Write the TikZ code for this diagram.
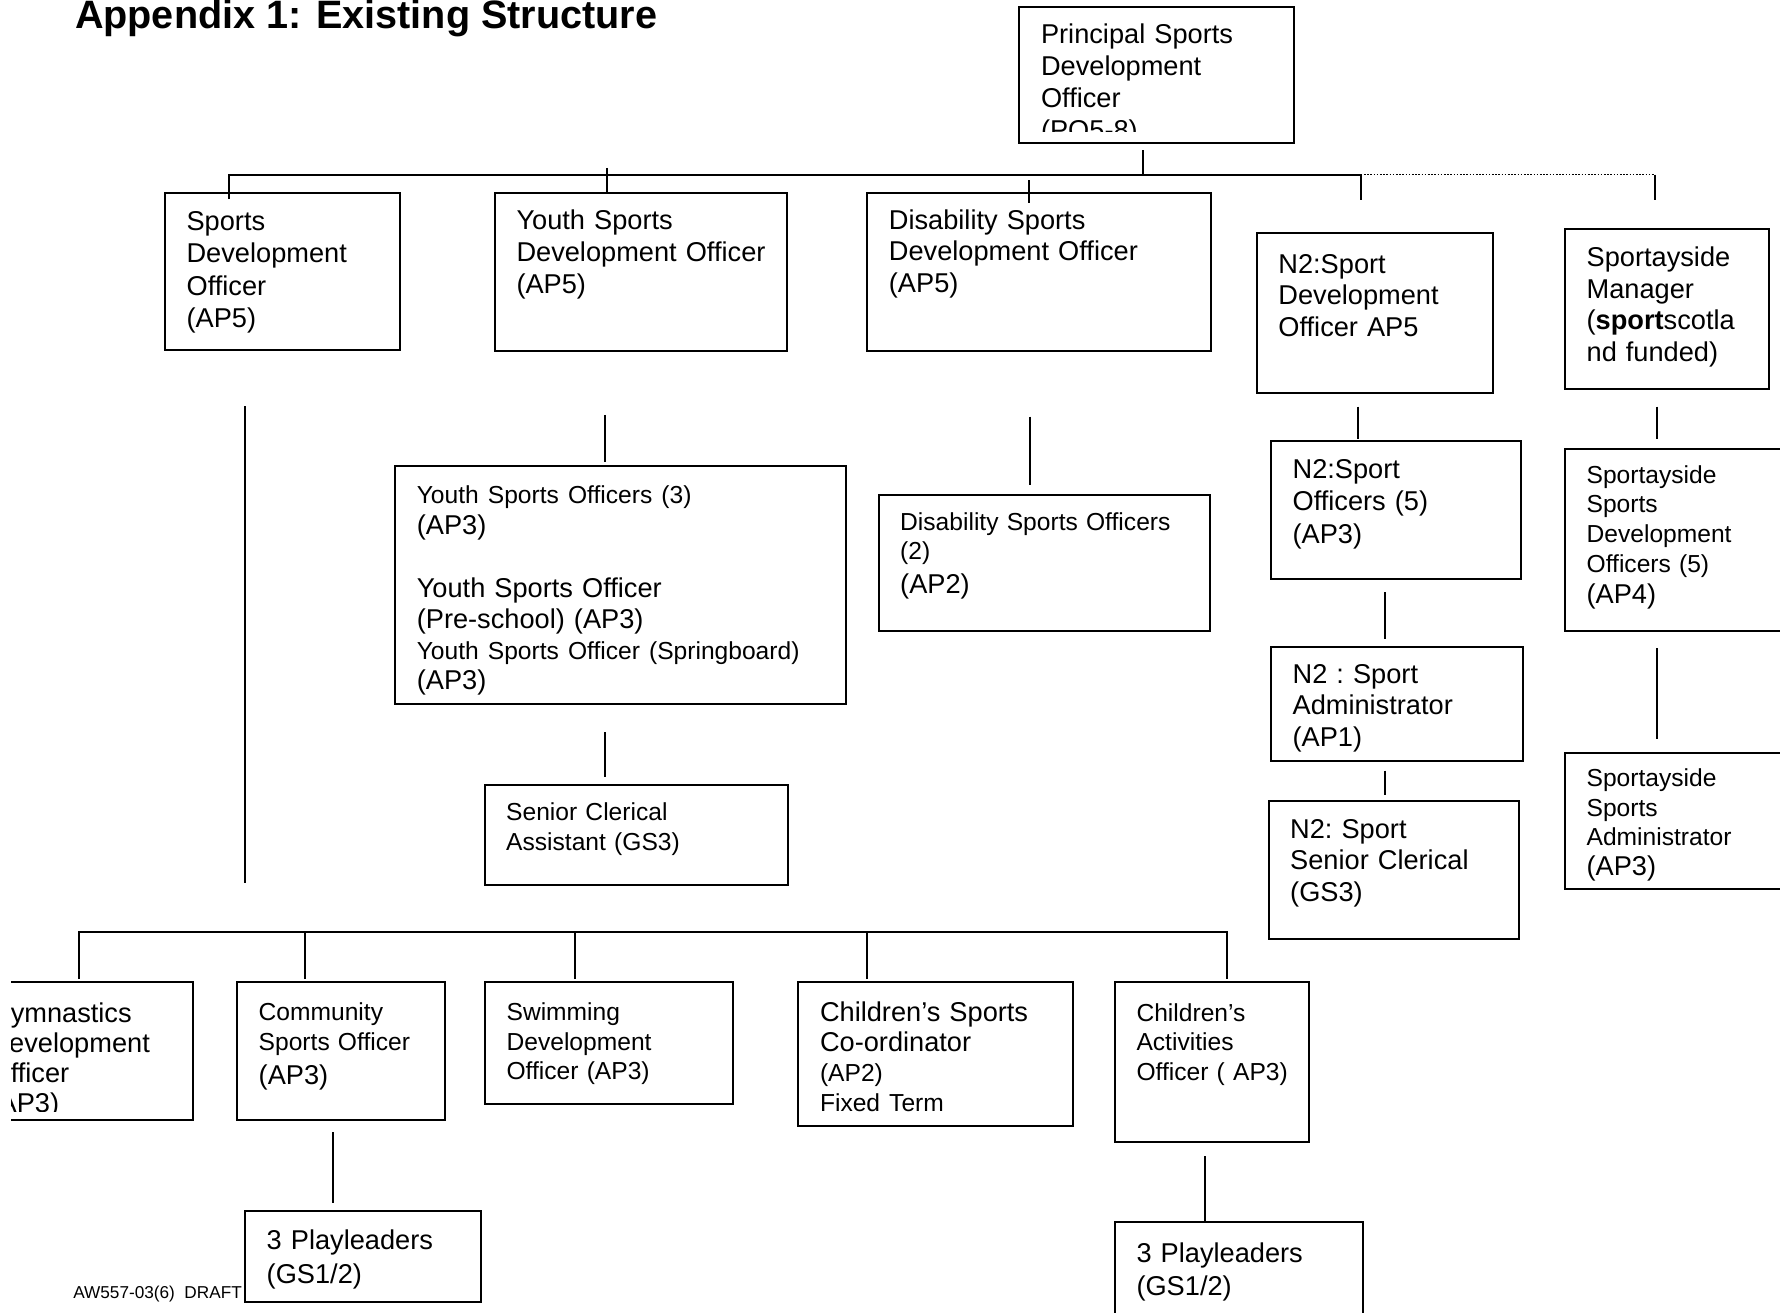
\documentclass[tikz,border=0pt]{standalone}
\usepackage{fontspec}
\setmainfont{Liberation Sans}
\usetikzlibrary{positioning}

\newcommand{\postbig}{\fontsize{13.6pt}{15.8pt}\selectfont}
\newcommand{\postsmall}{\fontsize{12.3pt}{14.8pt}\selectfont}

\tikzset{
  postbox/.style={draw, line width=1pt, inner sep=0pt, outer sep=0pt,
    align=left, font=\postbig,
    execute at begin node={\frenchspacing\leftskip=10.8pt\relax}},
  smalltext/.style={font=\postsmall},
  link/.style={line width=1pt},
  vacant/.style={line width=0.8pt, dash pattern=on 0.8pt off 0.8pt}
}

\begin{document}
\begin{tikzpicture}
  \useasboundingbox (0,0) rectangle (890pt,-656pt);

  % heading
  \node[font=\fontsize{19.8pt}{22pt}\selectfont\bfseries, anchor=base west,
        inner sep=0pt] (title) at (37.3pt,-14.15pt)
    {Appendix 1: Existing Structure};

  % Principal officer (last line cut off by the box)
  \begin{scope}
    \clip (0,0) rectangle (890pt,-65.85pt);
    \node[postbox, draw=none, anchor=north west, text width=137.35pt,
          text height=18.1pt, text depth=49.95pt,
          font=\fontsize{13.6pt}{16pt}\selectfont] (prin) at (509.7pt,-3.4pt)
      {Principal Sports\\Development\\Officer\\(PO5-8)};
  \end{scope}
  \draw[line width=1pt] (prin.south west) rectangle (prin.north east);

  % first tier
  \node[postbox, text width=117.5pt, text height=18.8pt, text depth=59.85pt,
        font=\fontsize{13.6pt}{16.2pt}\selectfont,
        below right=24.9pt and -427.2pt of prin.south west] (sdo)
    {Sports\\Development\\Officer\\(AP5)};
  \node[postbox, text width=145.9pt, text height=18.6pt, text depth=60.3pt,
        below right=0pt and 47.45pt of sdo.north east] (ysdo)
    {Youth Sports\\Development Officer\\(AP5)};
  \node[postbox, text width=171.7pt, text height=18.2pt, text depth=60.85pt,
        below right=0pt and 40.3pt of ysdo.north east] (dsdo)
    {Disability Sports\\Development Officer\\(AP5)};
  \node[postbox, text width=118.3pt, text height=20.3pt, text depth=59.7pt,
        below right=20pt and 23.05pt of dsdo.north east] (n2sdo)
    {N2:Sport\\Development\\Officer AP5};
  \node[postbox, text width=102pt, text height=18.85pt, text depth=61.15pt,
        below right=-1.85pt and 35.8pt of n2sdo.north east] (mgr)
    {Sportayside\\Manager\\(\textbf{sport}scotla\\nd funded)};

  % youth and disability teams
  \node[postbox, text width=225.4pt, text height=18.6pt, text depth=100.2pt,
        font=\fontsize{13.6pt}{15.3pt}\selectfont,
        below right=57.95pt and -49.85pt of ysdo.south west] (yso)
    {{\postsmall Youth Sports Officers (3)}\\(AP3)\\[16.5pt]
     Youth Sports Officer\\(Pre-school) (AP3)\\
     {\postsmall Youth Sports Officer (Springboard)}\\(AP3)};
  \node[postbox, smalltext, text width=151.7pt, text height=17.85pt,
        text depth=32.15pt, font=\fontsize{12.3pt}{15.2pt}\selectfont,
        below right=40.35pt and 44.7pt of yso.south west] (sca)
    {Senior Clerical\\Assistant (GS3)};
  \node[postbox, smalltext, text width=165.9pt, text height=17.65pt,
        text depth=50.2pt,
        below right=72.1pt and 5.65pt of dsdo.south west] (dso)
    {Disability Sports Officers\\(2)\\[2.2pt]{\postbig (AP2)}};

  % N2 team
  \node[postbox, text width=125pt, text height=18.8pt, text depth=50.35pt,
        font=\fontsize{13.6pt}{16.3pt}\selectfont,
        below right=24pt and 7.1pt of n2sdo.south west] (n2so)
    {N2:Sport\\Officers (5)\\(AP3)};
  \node[postbox, text width=126.1pt, text height=18pt, text depth=38.85pt,
        below right=34.15pt and 0pt of n2so.south west] (admin)
    {N2 : Sport\\Administrator\\(AP1)};
  \node[postbox, text width=125.4pt, text height=18.8pt, text depth=50.35pt,
        below right=19.85pt and -1.2pt of admin.south west] (n2sc)
    {N2: Sport\\Senior Clerical\\(GS3)};

  % Sportayside team
  \node[postbox, smalltext, text width=130pt, text height=17.15pt,
        text depth=73.7pt,
        below right=30pt and 0pt of mgr.south west] (ssdo)
    {Sportayside\\Sports\\Development\\Officers (5)\\[1pt]{\postbig (AP4)}};
  \node[postbox, smalltext, text width=130pt, text height=17pt,
        text depth=51.15pt,
        below right=61pt and 0pt of ssdo.south west] (ssa)
    {Sportayside\\Sports\\Administrator\\{\postbig (AP3)}};

  % community tier
  \node[postbox, smalltext, text width=124pt, text height=19pt, text depth=42pt,
        below right=48.85pt and 0.2pt of sca.south west] (swim)
    {Swimming\\Development\\Officer (AP3)};
  \node[postbox, smalltext, text width=103.9pt, text height=19pt,
        text depth=50pt,
        below left=0pt and 20.05pt of swim.north west] (com)
    {Community\\Sports Officer\\[2.4pt]{\postbig (AP3)}};
  \begin{scope}
    \clip (5.5pt,0) rectangle (890pt,-656pt);
    \begin{scope}
      \clip (5.5pt,0) rectangle (890pt,-555.85pt);
      \node[postbox, draw=none, text width=112.45pt, text height=20pt,
            text depth=49pt, font=\fontsize{13.6pt}{15pt}\selectfont,
            below left=0pt and 22.1pt of com.north west] (gym)
        {Gymnastics\\Development\\Officer\\(AP3)};
    \end{scope}
    \draw[line width=1pt] (gym.south west) rectangle (gym.north east);
  \end{scope}
  \node[postbox, text width=137.35pt, text height=19.5pt, text depth=52.5pt,
        font=\fontsize{13.6pt}{15pt}\selectfont,
        below right=0pt and 32.7pt of swim.north east] (csc)
    {Children’s Sports\\Co-ordinator\\{\postsmall (AP2)}\\{\postsmall Fixed Term}};
  \node[postbox, smalltext, text width=97pt, text height=19.4pt,
        text depth=60.6pt,
        below right=0pt and 20.9pt of csc.north east] (cao)
    {Children’s\\Activities\\Officer ( AP3)};
  \node[postbox, text width=117.95pt, text height=19.4pt, text depth=26.45pt,
        font=\fontsize{13.6pt}{17.2pt}\selectfont,
        below right=45.15pt and 4pt of com.south west] (playa)
    {3 Playleaders\\(GS1/2)};
  \node[postbox, text width=124pt, text height=20.2pt, text depth=49.3pt,
        font=\fontsize{13.6pt}{16.2pt}\selectfont,
        below right=40pt and 0pt of cao.south west] (playb)
    {3 Playleaders\\(GS1/2)};

  % footer
  \node[font=\fontsize{8.6pt}{10pt}\selectfont, anchor=base west,
        inner sep=0pt] (footer) at (36.45pt,-649.15pt) {AW557-03(6)\ \ DRAFT};

  % top bus and drops
  \draw[link] ([xshift=61.8pt,yshift=-3.55pt]prin.south west) -- ++(0,-12.25pt);
  \draw[link] ([xshift=32pt,yshift=-3.15pt]sdo.north west)
    |- ([xshift=51.95pt,yshift=29.1pt]n2sdo.north west) -- ++(0,-12.5pt);
  \draw[vacant] ([xshift=51.95pt,yshift=29.1pt]n2sdo.north west)
    -- ([xshift=45pt,yshift=27.25pt]mgr.north west);
  \draw[link] ([xshift=45pt,yshift=27.25pt]mgr.north west) -- ++(0,-12.5pt);
  \draw[link] ([xshift=56.2pt,yshift=12.4pt]ysdo.north west) -- ++(0,-12.4pt);
  \draw[link] ([xshift=80.85pt,yshift=6.35pt]dsdo.north west) -- ++(0,-11.65pt);

  % reporting lines
  \draw[link] ([xshift=40pt,yshift=-28pt]sdo.south west) -- ++(0,-238.5pt);
  \draw[link] ([xshift=55.05pt,yshift=-32.2pt]ysdo.south west) -- ++(0,-23.35pt);
  \draw[link] ([xshift=104.9pt,yshift=-14pt]yso.south west) -- ++(0,-22.5pt);
  \draw[link] ([xshift=81.55pt,yshift=-32.95pt]dsdo.south west) -- ++(0,-34.15pt);
  \draw[link] ([xshift=50.35pt,yshift=-7pt]n2sdo.south west) -- ++(0,-16.15pt);
  \draw[link] ([xshift=57.1pt,yshift=-6.65pt]n2so.south west) -- ++(0,-23.5pt);
  \draw[link] ([xshift=57.1pt,yshift=-4.85pt]admin.south west) -- ++(0,-12.15pt);
  \draw[link] ([xshift=45.85pt,yshift=-8.85pt]mgr.south west) -- ++(0,-16.15pt);
  \draw[link] ([xshift=45.85pt,yshift=-8.8pt]ssdo.south west) -- ++(0,-45.35pt);

  % bottom bus and drops
  \draw[link] ([xshift=55.3pt,yshift=1.7pt]gym.north west)
    |- ([xshift=56.05pt,yshift=25pt]cao.north west) -- ++(0,-23.3pt);
  \draw[link] ([xshift=33.85pt,yshift=1.7pt]com.north west) -- ++(0,23.3pt);
  \draw[link] ([xshift=45.1pt,yshift=1.7pt]swim.north west) -- ++(0,23.3pt);
  \draw[link] ([xshift=34.25pt,yshift=1.7pt]csc.north west) -- ++(0,23.3pt);
  \draw[link] ([xshift=47.95pt,yshift=-5.8pt]com.south west) -- ++(0,-35.5pt);
  \draw[link] ([xshift=44.95pt,yshift=-7pt]cao.south west) -- ++(0,-32.5pt);
\end{tikzpicture}
\end{document}
